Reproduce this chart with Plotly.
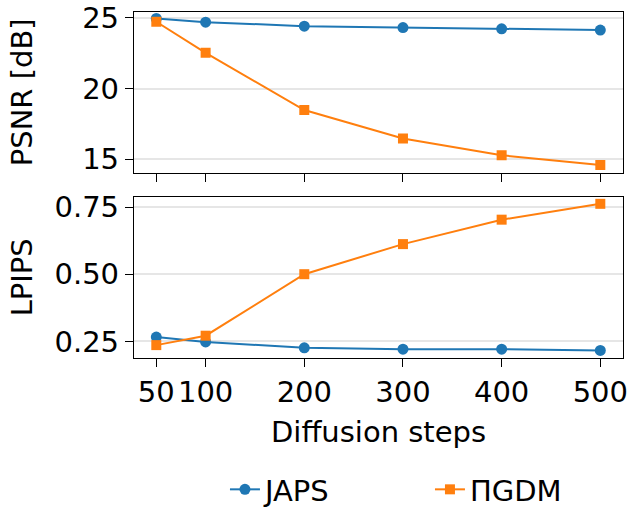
import plotly.graph_objects as go

steps = [50, 100, 200, 300, 400, 500]
tick_labels = ["50", "100", "200", "300", "400", "500"]
japs_psnr = [24.95, 24.69, 24.41, 24.31, 24.22, 24.13]
pigdm_psnr = [24.72, 22.52, 18.48, 16.47, 15.28, 14.60]
japs_lpips = [0.266, 0.248, 0.226, 0.221, 0.221, 0.216]
pigdm_lpips = [0.236, 0.271, 0.500, 0.612, 0.703, 0.762]

BLUE = "#1f77b4"
ORANGE = "#ff7f0e"
FONT = "DejaVu Sans"
FS = 29

fig = go.Figure()
common_j = dict(mode="lines+markers", line=dict(color=BLUE, width=2),
                marker=dict(symbol="circle", size=11, color=BLUE), name="JAPS", legendgroup="j")
common_p = dict(mode="lines+markers", line=dict(color=ORANGE, width=2),
                marker=dict(symbol="square", size=10, color=ORANGE), name="ΠGDM", legendgroup="p")

fig.add_trace(go.Scatter(x=steps, y=japs_psnr, xaxis="x", yaxis="y", **common_j))
fig.add_trace(go.Scatter(x=steps, y=pigdm_psnr, xaxis="x", yaxis="y", **common_p))
fig.add_trace(go.Scatter(x=steps, y=japs_lpips, xaxis="x2", yaxis="y2", showlegend=False, **common_j))
fig.add_trace(go.Scatter(x=steps, y=pigdm_lpips, xaxis="x2", yaxis="y2", showlegend=False, **common_p))

axis_common = dict(showline=True, linecolor="black", linewidth=1.3, mirror=True,
                   ticks="outside", ticklen=8, tickwidth=1.3, tickcolor="black",
                   tickangle=0, automargin=False,
                   tickfont=dict(family=FONT, size=FS, color="black"), zeroline=False)

xr = [27.4, 523]
fig.update_layout(
    width=629, height=510,
    margin=dict(l=134, r=6, t=12, b=152, autoexpand=False),
    paper_bgcolor="white", plot_bgcolor="white",
    font=dict(family=FONT, color="black"),
    xaxis=dict(domain=[0, 1], anchor="y", range=xr, tickvals=steps, ticktext=tick_labels,
               showticklabels=False, showgrid=False, **axis_common),
    yaxis=dict(domain=[0.534, 1], anchor="x", range=[14.01, 25.41], tickvals=[15, 20, 25],
               showgrid=True, gridcolor="#e6e6e6", gridwidth=1.5, **axis_common),
    xaxis2=dict(domain=[0, 1], anchor="y2", range=xr, tickvals=steps, ticktext=tick_labels,
                showgrid=False, **axis_common),
    yaxis2=dict(domain=[0, 0.465], anchor="x2", range=[0.188, 0.787], tickvals=[0.25, 0.5, 0.75],
                ticktext=["0.25", "0.50", "0.75"],
                showgrid=True, gridcolor="#e6e6e6", gridwidth=1.5, **axis_common),
    legend=dict(orientation="h", x=0.186, xanchor="left", y=-0.38, yanchor="middle",
                font=dict(family=FONT, size=FS, color="black"), entrywidth=160,
                bgcolor="rgba(0,0,0,0)"),
    annotations=[
        dict(text="PSNR [dB]", xref="paper", yref="paper", x=-0.2298, y=0.767,
             xanchor="center", yanchor="middle", textangle=-90, showarrow=False,
             font=dict(family=FONT, size=FS, color="black")),
        dict(text="LPIPS", xref="paper", yref="paper", x=-0.2298, y=0.232,
             xanchor="center", yanchor="middle", textangle=-90, showarrow=False,
             font=dict(family=FONT, size=FS, color="black")),
        dict(text="Diffusion steps", xref="paper", yref="paper", x=0.5, y=-0.2128,
             xanchor="center", yanchor="middle", showarrow=False,
             font=dict(family=FONT, size=FS, color="black")),
    ],
)

fig.write_html("out.html")
